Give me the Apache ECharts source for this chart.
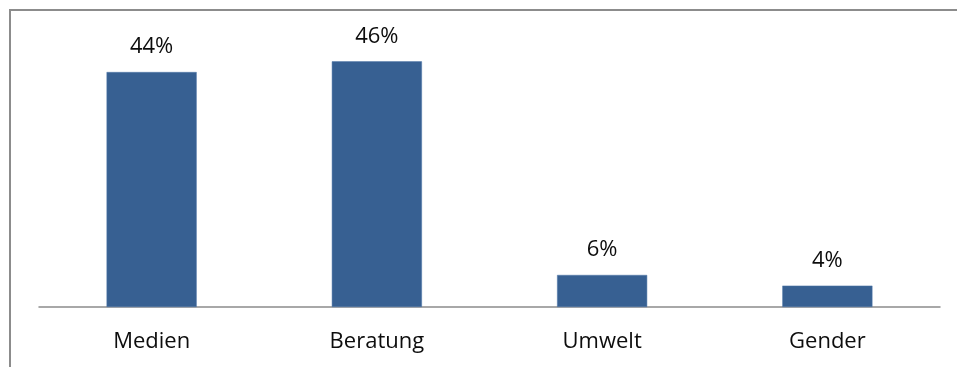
<!DOCTYPE html>
<html>
<head>
<meta charset="utf-8">
<script src="https://cdn.jsdelivr.net/npm/echarts@6/dist/echarts.min.js"></script>
<style>
  html, body { margin: 0; padding: 0; background: #fff; }
  #chart { width: 957px; height: 367px; }
</style>
</head>
<body>
<div id="chart"></div>
<script>
// Themenbereiche und ihre Anteile in Prozent
const categories = ['Medien', 'Beratung', 'Umwelt', 'Gender'];
const shares = [44, 46, 6, 4];

const chart = echarts.init(document.getElementById('chart'), null, { renderer: 'canvas' });

const fontFamily = '"Open Sans", "Noto Sans", sans-serif';

chart.setOption({
  animation: false,
  backgroundColor: '#ffffff',
  grid: { left: 39, right: 17, top: 40, bottom: 60, containLabel: false },
  xAxis: {
    type: 'category',
    data: categories,
    axisLine: { show: true, lineStyle: { color: '#8c8c8c', width: 1.5 } },
    axisTick: { show: false },
    axisLabel: { color: '#0d0d0d', fontSize: 22, fontFamily: fontFamily, margin: 24 }
  },
  yAxis: {
    type: 'value',
    min: 0,
    max: 50,
    show: false,
    splitLine: { show: false }
  },
  series: [{
    type: 'bar',
    data: shares,
    barWidth: '40%',
    itemStyle: { color: '#376092', borderColor: '#4f77a8', borderWidth: 0.5 },
    label: {
      show: true,
      position: 'top',
      distance: 14,
      formatter: '{c}%',
      color: '#0d0d0d',
      fontSize: 22,
      fontFamily: fontFamily
    }
  }],
  graphic: [
    {
      type: 'polyline',
      silent: true,
      shape: { points: [[10, 367], [10, 10], [957, 10]] },
      style: { stroke: '#8c8c8c', lineWidth: 2, fill: null }
    }
  ]
});
</script>
</body>
</html>
